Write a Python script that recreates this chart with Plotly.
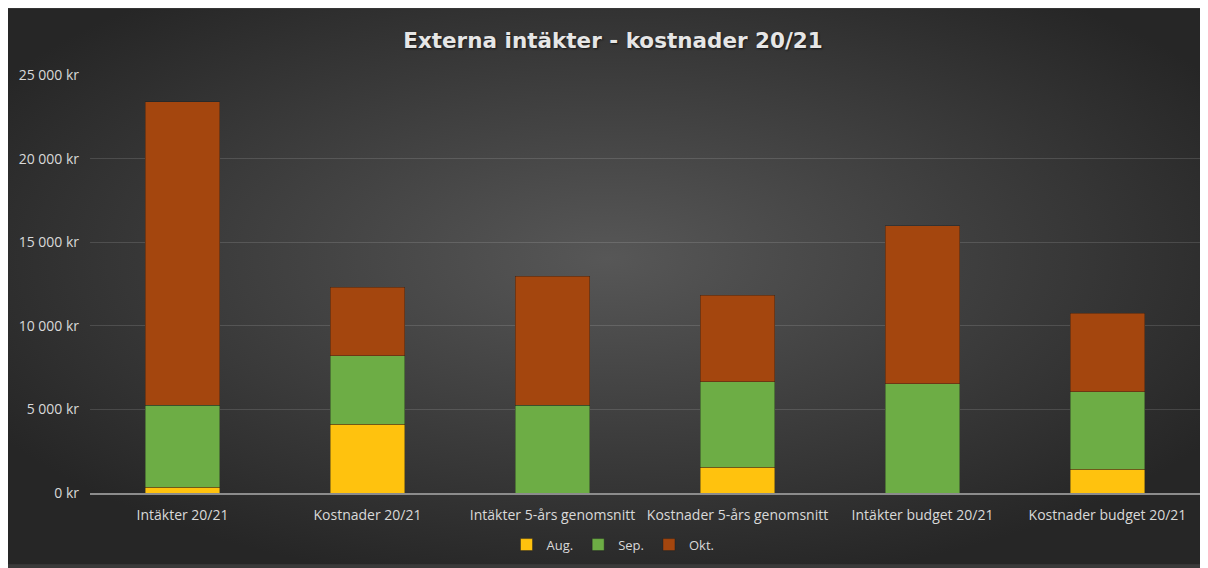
import base64
import plotly.graph_objects as go

categories = ["Intäkter 20/21", "Kostnader 20/21", "Intäkter 5-års genomsnitt",
              "Kostnader 5-års genomsnitt", "Intäkter budget 20/21", "Kostnader budget 20/21"]
aug = [350, 4100, 0, 1550, 0, 1430]
sep = [4900, 4100, 5250, 5100, 6530, 4630]
okt = [18150, 4100, 7700, 5170, 9440, 4690]
series_names = ["Aug.", "Sep.", "Okt."]
series_colors = ["#FFC20E", "#6DAD45", "#A4460E"]
tick_vals = [0, 5000, 10000, 15000, 20000, 25000]
tick_text = ["0 kr", "5 000 kr", "10 000 kr", "15 000 kr", "20 000 kr", "25 000 kr"]

W, H = 1200, 560
L, R, T, B = 82, 8, 67, 72
pw, ph = W - L - R, H - T - B

svg = f"""<svg xmlns='http://www.w3.org/2000/svg' width='{W}' height='{H}' viewBox='0 0 {W} {H}' preserveAspectRatio='none'>
<defs><radialGradient id='g' cx='50%' cy='45%' r='60%' gradientUnits='objectBoundingBox'>
<stop offset='0%' stop-color='#575757'/><stop offset='100%' stop-color='#262626'/></radialGradient></defs>
<rect width='{W}' height='{H}' fill='url(#g)'/></svg>"""
bg_uri = "data:image/svg+xml;base64," + base64.b64encode(svg.encode()).decode()

fig = go.Figure()
for name, vals, col in zip(series_names, [aug, sep, okt], series_colors):
    fig.add_trace(go.Bar(x=categories, y=vals, name=name, marker_color=col,
                         marker_line=dict(color="rgba(30,30,30,0.5)", width=0.8)))

fig.add_layout_image(dict(source=bg_uri, xref="paper", yref="paper",
                          x=-L / pw, y=(ph + T) / ph, sizex=W / pw, sizey=H / ph,
                          sizing="stretch", layer="below", xanchor="left", yanchor="top"))

fig.update_layout(
    width=W, height=H,
    margin=dict(l=L, r=R, t=T, b=B, pad=0),
    paper_bgcolor="#3a3a3a", plot_bgcolor="rgba(0,0,0,0)",
    barmode="stack", bargap=0.595,
    font=dict(family="Open Sans, sans-serif", color="#D9D9D9", size=13),
    title=dict(text="<b>Externa intäkter - kostnader 20/21</b>", x=605 / W, xref="container",
               xanchor="center", y=1 - 32 / H, yanchor="middle",
               font=dict(size=21.5, color="#E6E6E6", family="DejaVu Sans, sans-serif",
                         shadow="1px 1px 2px rgba(0,0,0,0.6)")),
    showlegend=True,
    legend=dict(orientation="h", x=(605 - L) / pw, xanchor="center", y=-(540 - (T + ph)) / ph,
                yanchor="middle", font=dict(size=13, color="#D9D9D9"),
                bgcolor="rgba(0,0,0,0)", itemwidth=30, traceorder="normal"),
    xaxis=dict(showgrid=False, showline=True, linecolor="#8C8C8C", linewidth=1.5,
               ticks="", tickfont=dict(size=14, color="#D9D9D9"), ticklabelstandoff=8),
    yaxis=dict(range=[0, 25000], tickvals=tick_vals, ticktext=tick_text, showgrid=True,
               gridcolor="rgba(255,255,255,0.13)", gridwidth=1, zeroline=False,
               showline=False, ticks="", tickfont=dict(size=14, color="#D9D9D9"),
               ticklabelstandoff=10),
)
fig.write_html("out.html")
